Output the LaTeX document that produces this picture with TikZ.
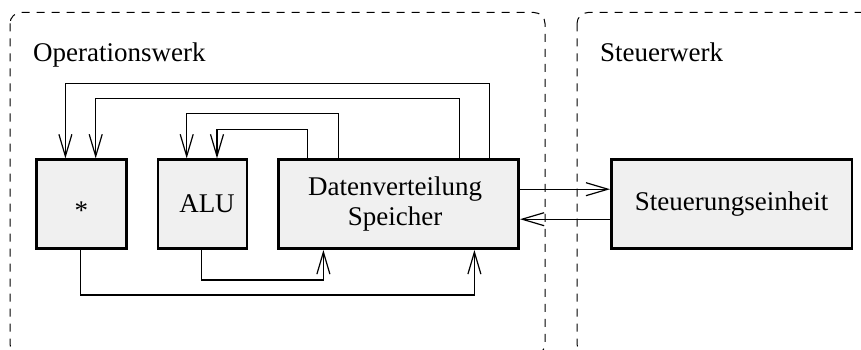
\documentclass[tikz,border=0pt]{standalone}
\usepackage{fontspec}
\setmainfont{Liberation Serif}
\usetikzlibrary{arrows.meta}
\begin{document}
\begin{tikzpicture}[x=1pt,y=-1pt,
  font=\fontsize{27}{30}\selectfont,
  unit/.style={draw, line width=2.6pt, fill=black!6, inner sep=0pt, align=center,
    minimum width=#1, minimum height=89pt},
  region/.style={draw, dash pattern=on 8pt off 7pt, line width=1pt, rounded corners=11pt},
  wire/.style={line width=1.2pt, -{Straight Barb[length=22pt,width=13pt]}},
  title/.style={anchor=base west, inner sep=0pt}]
  \useasboundingbox (0,0) rectangle (861,350);
  \clip (0,0) rectangle (861,350);

  % the two dashed regions
  \draw[region] (10,12.5) rectangle (545,355);
  \draw[region] (577,12.5) rectangle (900,355);
  \node[title] (opw) at (33,62) {Operationswerk};
  \node[title] (stw) at (600,62) {Steuerwerk};

  % functional units
  \node[unit=90pt] (M) at (81.3,204.2) {\raisebox{-15.7pt}[0pt][0pt]{*}};
  \node[unit=89pt] (A) at (202.5,204.2) {\hspace*{9pt}ALU};
  \node[unit=240pt] (D) at (398.7,204.2) {Datenverteilung\hspace*{7pt}\\Speicher\hspace*{7pt}};
  \node[unit=240.5pt] (S) at (731.6,204.2) {Steuerungseinheit};

  % feedback from the distribution unit to the operand inputs
  \draw[wire] ([xshift=212pt]D.north west) -- ++(0,-74.7) -| ([xshift=30.4pt]M.north west);
  \draw[wire] ([xshift=182pt]D.north west) -- ++(0,-60) -| ([xshift=60.7pt]M.north west);
  \draw[wire] ([xshift=61pt]D.north west) -- ++(0,-45) -| ([xshift=30pt]A.north west);
  \draw[wire] ([xshift=30.4pt]D.north west) -- ++(0,-29.3) -| ([xshift=60.3pt]A.north west);

  % results back into the distribution unit
  \draw[wire] ([xshift=45pt]A.south west) -- ++(0,30) -| ([xshift=46pt]D.south west);
  \draw[wire] ([xshift=45.7pt]M.south west) -- ++(0,45) -| ([xshift=197pt]D.south west);

  % link to the control unit
  \draw[wire] ([yshift=15pt]D.east) -- ([yshift=15pt]S.west);
  \draw[wire] ([yshift=-15pt]S.west) -- ([yshift=-15pt]D.east);
\end{tikzpicture}
\end{document}
